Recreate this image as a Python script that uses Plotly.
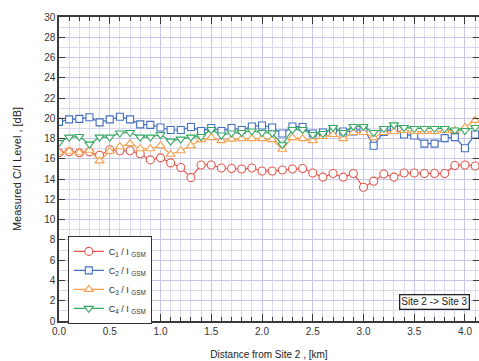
import plotly.graph_objects as go

distance_km = [round(0.1 * i, 1) for i in range(42)]

c1_gsm = [16.6, 16.7, 16.6, 16.7, 16.35, 16.9, 16.8, 16.8, 16.5, 15.9,
          16.1, 15.6, 15.15, 14.15, 15.4, 15.4, 15.1, 15.05, 15.0, 15.1,
          14.8, 14.8, 14.9, 15.0, 15.05, 14.6, 14.2, 14.55, 14.2, 14.55,
          13.2, 13.8, 14.5, 14.2, 14.6, 14.6, 14.55, 14.55, 14.55, 15.35,
          15.4, 15.3]
c2_gsm = [19.65, 19.9, 19.95, 20.1, 19.6, 19.9, 20.15, 19.9, 19.4, 19.35,
          19.1, 18.85, 18.85, 19.15, 18.75, 19.05, 18.75, 19.05, 18.85, 19.2,
          19.3, 19.1, 18.5, 19.2, 19.15, 18.5, 18.6, 18.9, 18.7, 18.7,
          19.0, 17.3, 18.65, 19.0, 18.4, 18.3, 17.5, 17.5, 18.05, 18.15,
          17.05, 18.4]
c3_gsm = [16.65, 16.75, 16.6, 16.85, 15.8, 16.75, 17.2, 17.5, 17.0, 17.0,
          17.3, 16.45, 16.8, 17.3, 17.9, 18.1, 17.8, 17.95, 18.0, 18.0,
          18.0, 17.9, 16.95, 18.1, 18.0, 17.8, 18.2, 18.4, 18.0, 18.6,
          18.6, 18.1, 18.6, 18.7, 18.8, 18.7, 18.7, 18.7, 18.8, 18.8,
          19.1, 19.8]
c4_gsm = [17.6, 18.15, 18.2, 17.45, 18.15, 18.15, 18.55, 18.6, 18.15, 18.15,
          18.4, 17.75, 17.95, 18.15, 18.2, 18.9, 18.35, 18.55, 18.6, 18.75,
          18.6, 18.55, 17.4, 18.9, 18.9, 18.4, 18.5, 19.1, 18.6, 19.2,
          19.2, 18.6, 19.0, 19.35, 19.1, 19.0, 19.0, 19.0, 19.0, 18.85,
          18.8, 19.1]

series_names = ["C<sub>1</sub> / I <sub>GSM</sub>", "C<sub>2</sub> / I <sub>GSM</sub>",
                "C<sub>3</sub> / I <sub>GSM</sub>", "C<sub>4</sub> / I <sub>GSM</sub>"]
series_values = [c1_gsm, c2_gsm, c3_gsm, c4_gsm]
series_colors = ["#e4574d", "#4470c0", "#f5a04e", "#35a862"]
series_symbols = ["circle", "square", "triangle-up", "triangle-down"]
series_sizes = [8, 7, 8, 8]

fig = go.Figure()
for name, vals, col, sym, sz in zip(series_names, series_values, series_colors,
                                    series_symbols, series_sizes):
    fig.add_trace(go.Scatter(
        x=distance_km, y=vals, name=name, mode="lines+markers",
        line=dict(color=col, width=1.2),
        marker=dict(symbol=sym, size=sz, color="white",
                    line=dict(color=col, width=1.1)),
    ))

font_family = "Liberation Sans, Arial, sans-serif"
axis_col = "#3a3a3a"
grid_major = "#c6c6ea"
grid_minor = "#d9d9f2"

fig.update_layout(
    width=479, height=361,
    margin=dict(l=59, r=0, t=17, b=40),
    paper_bgcolor="white", plot_bgcolor="white",
    font=dict(family=font_family, size=10, color="#333333"),
    showlegend=True,
    legend=dict(x=0.021, y=0.28, xanchor="left", yanchor="top",
                bgcolor="white", bordercolor="#333333", borderwidth=1,
                font=dict(size=9, color="#333333"), tracegroupgap=0,
                itemwidth=30),
    xaxis=dict(
        range=[0, 4.138], tick0=0, dtick=0.5, tickformat=".1f",
        automargin=False,
        ticks="inside", ticklen=7, tickwidth=1.2, tickcolor=axis_col,
        showline=True, linecolor=axis_col, linewidth=1.5, mirror="allticks",
        showgrid=True, gridcolor=grid_major, gridwidth=1, zeroline=False,
        minor=dict(dtick=0.1, ticks="inside", ticklen=4, tickwidth=1,
                   tickcolor=axis_col, showgrid=True, gridcolor=grid_minor,
                   gridwidth=1),
        tickfont=dict(size=10, color="#333333"),
        title=dict(text="Distance from Site 2 , [km]",
                   font=dict(size=10, color="#222222"), standoff=15),
    ),
    yaxis=dict(
        range=[0, 30], tick0=0, dtick=2,
        automargin=False,
        ticks="inside", ticklen=6, tickwidth=1.2, tickcolor=axis_col,
        showline=True, linecolor=axis_col, linewidth=1.5, mirror="allticks",
        showgrid=True, gridcolor=grid_major, gridwidth=1, zeroline=False,
        minor=dict(dtick=1, ticks="", showgrid=True, gridcolor=grid_minor,
                   gridwidth=1),
        tickfont=dict(size=10, color="#333333"),
        title=dict(text="Measured C/I Level , [dB]",
                   font=dict(size=11, color="#222222"), standoff=20),
    ),
    annotations=[dict(
        x=0.893, y=0.063, xref="paper", yref="paper",
        text="Site 2 -> Site 3", showarrow=False,
        font=dict(size=10, color="#222222"),
        bordercolor="#222222", borderwidth=1.3, borderpad=1,
        bgcolor="white", xanchor="center", yanchor="middle",
    )],
)

fig.write_html("out.html",
               config={"displayModeBar": False},
               post_script="document.body.style.margin='0';"
                           "document.body.style.padding='0';")
